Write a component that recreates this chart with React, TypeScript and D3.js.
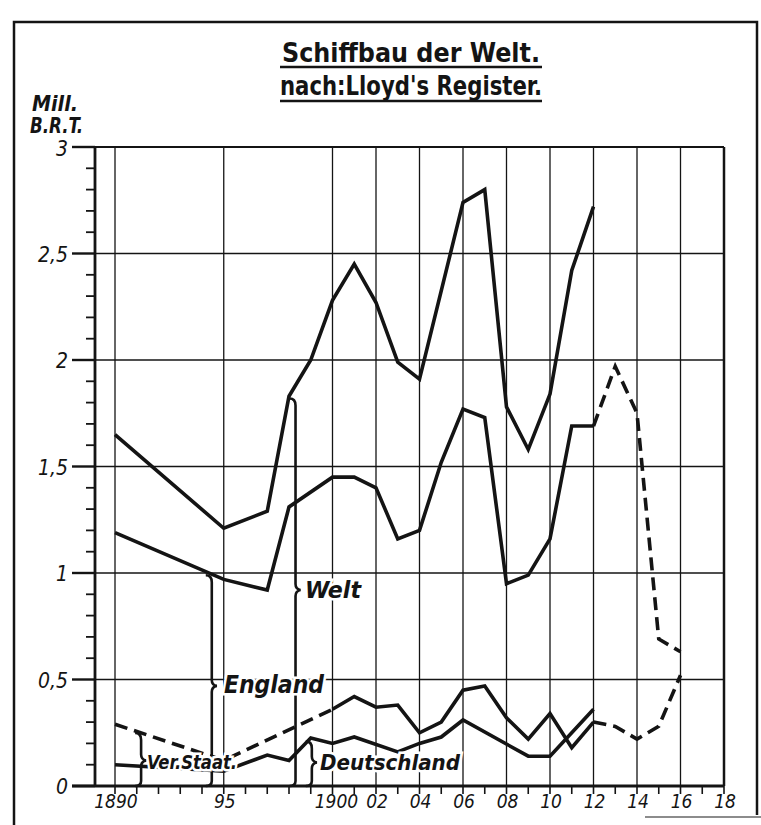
import * as d3 from "d3";

// Schiffbau der Welt, Mill. B.R.T.
const weltYears = [1890, 1895, 1897, 1898, 1899, 1900, 1901, 1902, 1903, 1904, 1906, 1907, 1908, 1909, 1910, 1911, 1912];
const weltValues = [1.65, 1.21, 1.29, 1.83, 2.0, 2.28, 2.45, 2.27, 1.99, 1.91, 2.74, 2.8, 1.78, 1.58, 1.84, 2.42, 2.72];

const englandYears = [1890, 1895, 1897, 1898, 1900, 1901, 1902, 1903, 1904, 1905, 1906, 1907, 1908, 1909, 1910, 1911, 1912];
const englandValues = [1.19, 0.97, 0.92, 1.31, 1.45, 1.45, 1.4, 1.16, 1.2, 1.52, 1.77, 1.73, 0.95, 0.99, 1.16, 1.69, 1.69];
const englandLateYears = [1912, 1913, 1914, 1915, 1916];
const englandLateValues = [1.69, 1.97, 1.75, 0.69, 0.63];

const usEarlyYears = [1890, 1895, 1900];
const usEarlyValues = [0.29, 0.12, 0.36];
const usYears = [1900, 1901, 1902, 1903, 1904, 1905, 1906, 1907, 1908, 1909, 1910, 1911, 1912];
const usValues = [0.36, 0.42, 0.37, 0.38, 0.25, 0.3, 0.45, 0.47, 0.32, 0.22, 0.34, 0.18, 0.3];
const usLateYears = [1912, 1913, 1914, 1915, 1916];
const usLateValues = [0.3, 0.28, 0.22, 0.28, 0.52];

const germanyYears = [1890, 1895, 1897, 1898, 1899, 1900, 1901, 1903, 1904, 1905, 1906, 1909, 1910, 1912];
const germanyValues = [0.1, 0.07, 0.145, 0.12, 0.225, 0.2, 0.23, 0.16, 0.2, 0.23, 0.31, 0.14, 0.14, 0.36];

const gridYears = [1890, 1895, 1900, 1902, 1904, 1906, 1908, 1910, 1912, 1914, 1916];
const xLabelYears = [1890, 1895, 1900, 1902, 1904, 1906, 1908, 1910, 1912, 1914, 1916, 1918];
const xLabels = ["1890", "95", "1900", "02", "04", "06", "08", "10", "12", "14", "16", "18"];
const yTicks = [0, 0.5, 1, 1.5, 2, 2.5, 3];
const yLabels = ["0", "0,5", "1", "1,5", "2", "2,5", "3"];

const INK = "#141414";
const FONT = "'DejaVu Sans', 'Liberation Sans', sans-serif";

export default function App() {
  const x = d3.scaleLinear().domain([1890, 1918]).range([115, 724]);
  const y = d3.scaleLinear().domain([0, 3]).range([786, 147]);
  const axisX = x(1890) - 20;

  const line = d3.line<[number, number]>().x((d) => x(d[0])).y((d) => y(d[1]));
  const path = (ys: number[], vs: number[]) => line(ys.map((yr, i) => [yr, vs[i]]) as [number, number][]) || "";

  // brace: vertical line from a series down to the axis, with a tip toward its label
  const brace = (yr: number, top: number, tip: number) => {
    const bx = x(yr);
    const t = y(top), m = y(tip), b = y(0);
    return `M${bx - 6},${t - 2} Q${bx},${t - 2} ${bx},${t + 5} L${bx},${m - 6} Q${bx},${m - 1} ${bx + 5},${m} Q${bx},${m + 1} ${bx},${m + 6} L${bx},${b - 5} Q${bx},${b} ${bx - 6},${b}`;
  };

  const minorY = d3.range(0, 30).map((i) => i / 10).filter((v) => Math.round(v * 10) % 5 !== 0);
  const years = d3.range(1890, 1919);

  const lbl = {
    fontFamily: FONT,
    fontStyle: "italic" as const,
    fontWeight: 700,
    fontStretch: "condensed",
    fill: INK,
    stroke: "white",
    strokeWidth: 5,
    paintOrder: "stroke" as const,
  };

  return (
    <svg width={761} height={825} style={{ position: "absolute", left: 0, top: 0, background: "white" }}>
      {/* outer frame */}
      <path d="M14,825 L14,22 L757,22 L757,815" fill="none" stroke={INK} strokeWidth={2.5} />
      <line x1={645} x2={761} y1={817} y2={817} stroke="#666" strokeWidth={1.5} />

      {/* title */}
      <g fontFamily={FONT} fontWeight={700} fill={INK} style={{ fontStretch: "condensed" }} textAnchor="middle">
        <text x={411} y={62} fontSize={26} textLength={258} lengthAdjust="spacingAndGlyphs">Schiffbau der Welt.</text>
        <line x1={280} x2={542} y1={67} y2={67} stroke={INK} strokeWidth={2.5} />
        <text x={411} y={95} fontSize={26} textLength={262} lengthAdjust="spacingAndGlyphs">nach:Lloyd's Register.</text>
        <line x1={280} x2={542} y1={101} y2={101} stroke={INK} strokeWidth={2.5} />
      </g>

      {/* unit */}
      <g fontFamily={FONT} fontStyle="italic" fontWeight={700} fill={INK} fontSize={21} style={{ fontStretch: "condensed" }}>
        <text x={32} y={111} textLength={46} lengthAdjust="spacingAndGlyphs">Mill.</text>
        <text x={30} y={133} textLength={53} lengthAdjust="spacingAndGlyphs">B.R.T.</text>
      </g>

      {/* grid */}
      <g stroke={INK} strokeWidth={1.3}>
        {yTicks.slice(1, -1).map((v) => (
          <line key={"h" + v} x1={axisX} x2={x(1918)} y1={y(v)} y2={y(v)} />
        ))}
        {gridYears.map((yr) => (
          <line key={"v" + yr} x1={x(yr)} x2={x(yr)} y1={y(3)} y2={y(0)} />
        ))}
      </g>
      {/* frame of the plot */}
      <g stroke={INK} fill="none">
        <line x1={axisX - 23} x2={x(1918)} y1={y(3)} y2={y(3)} strokeWidth={2.2} />
        <line x1={x(1918)} x2={x(1918)} y1={y(3)} y2={y(0)} strokeWidth={2.5} />
        <line x1={axisX} x2={axisX} y1={y(3)} y2={y(0)} strokeWidth={2.8} />
        <line x1={axisX - 23} x2={x(1918)} y1={y(0)} y2={y(0)} strokeWidth={2.8} />
        {yTicks.map((v) => (
          <line key={"mt" + v} x1={axisX - 23} x2={axisX} y1={y(v)} y2={y(v)} strokeWidth={2.4} />
        ))}
        {minorY.map((v) => (
          <line key={"nt" + v} x1={axisX - 9} x2={axisX} y1={y(v)} y2={y(v)} strokeWidth={1.8} />
        ))}
        {years.map((yr) => (
          <line key={"xt" + yr} x1={x(yr)} x2={x(yr)} y1={y(0)} y2={y(0) + 8} strokeWidth={1.6} />
        ))}
      </g>

      {/* axis labels */}
      <g fontFamily={FONT} fontStyle="italic" fill={INK} style={{ fontStretch: "condensed" }}>
        {yTicks.map((v, i) => (
          <text key={"yl" + v} x={axisX - 27} y={y(v) + (v === 3 ? 9 : 8)} fontSize={21} textAnchor="end">{yLabels[i]}</text>
        ))}
        {xLabelYears.map((yr, i) => (
          <text key={"xl" + yr} x={x(yr) + (yr === 1900 ? 4 : 1)} y={808} fontSize={19} textAnchor="middle">{xLabels[i]}</text>
        ))}
      </g>

      {/* series */}
      <g fill="none" stroke={INK} strokeWidth={3.6} strokeLinejoin="miter" strokeLinecap="butt">
        <path d={path(weltYears, weltValues)} />
        <path d={path(englandYears, englandValues)} />
        <path d={path(englandLateYears, englandLateValues)} strokeDasharray="13,7" />
        <path d={path(usEarlyYears, usEarlyValues)} strokeDasharray="13,7" />
        <path d={path(usYears, usValues)} />
        <path d={path(usLateYears, usLateValues)} strokeDasharray="13,7" />
        <path d={path(germanyYears, germanyValues)} />
      </g>

      {/* braces */}
      <g fill="none" stroke={INK} strokeWidth={2.6}>
        <path d={brace(1891.2, 0.24, 0.12)} />
        <path d={brace(1894.45, 0.98, 0.47)} />
        <path d={brace(1898.3, 1.81, 0.92)} />
        <path d={brace(1899.05, 0.2, 0.11)} />
      </g>

      {/* series labels */}
      <g>
        <text x={147} y={769} fontSize={20} textLength={90} lengthAdjust="spacingAndGlyphs" style={lbl}>Ver.Staat.</text>
        <text x={224} y={693} fontSize={24} textLength={100} lengthAdjust="spacingAndGlyphs" style={lbl}>England</text>
        <text x={305} y={598} fontSize={23} textLength={56} lengthAdjust="spacingAndGlyphs" style={lbl}>Welt</text>
        <text x={320} y={770} fontSize={21} textLength={140} lengthAdjust="spacingAndGlyphs" style={lbl}>Deutschland</text>
      </g>
    </svg>
  );
}
